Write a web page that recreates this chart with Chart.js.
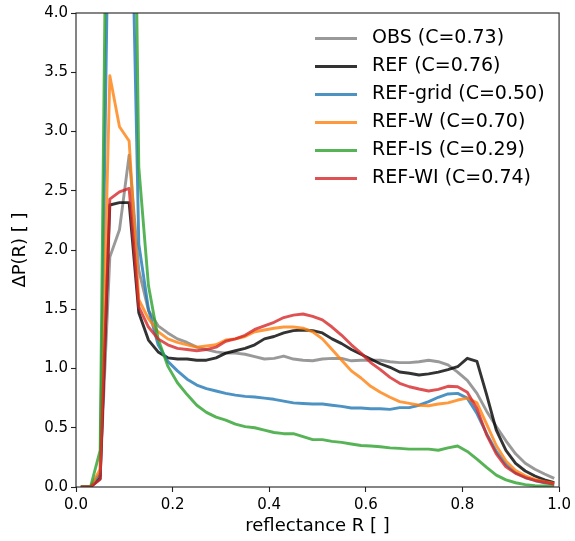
<!DOCTYPE html>
<html>
<head>
<meta charset="utf-8">
<script src="https://cdn.jsdelivr.net/npm/chart.js@4.4.1/dist/chart.umd.min.js"></script>
<style>
html,body{margin:0;padding:0;background:#fff;}
#wrap{position:relative;width:575px;height:541px;}
</style>
</head>
<body>
<div id="wrap"><canvas id="c"></canvas></div>
<script>
// reflectance bin centres
const reflectance = [0.01,0.03,0.05,0.07,0.09,0.11,0.13,0.15,0.17,0.19,
                     0.21,0.23,0.25,0.27,0.29,0.31,0.33,0.35,0.37,0.39,
                     0.41,0.43,0.45,0.47,0.49,0.51,0.53,0.55,0.57,0.59,
                     0.61,0.63,0.65,0.67,0.69,0.71,0.73,0.75,0.77,0.79,
                     0.81,0.83,0.85,0.87,0.89,0.91,0.93,0.95,0.97,0.99];

const obs = [0,0,0.10,1.94,2.17,2.80,1.83,1.49,1.36,1.30,
             1.25,1.22,1.18,1.16,1.14,1.13,1.13,1.12,1.10,1.08,
             1.085,1.105,1.08,1.07,1.065,1.08,1.085,1.085,1.065,1.07,
             1.07,1.07,1.057,1.05,1.05,1.057,1.07,1.057,1.03,0.97,
             0.90,0.79,0.64,0.51,0.39,0.28,0.20,0.15,0.11,0.073];

const ref = [0,0,0.07,2.38,2.40,2.40,1.47,1.24,1.14,1.09,
             1.08,1.08,1.07,1.07,1.09,1.13,1.15,1.17,1.20,1.25,
             1.27,1.30,1.32,1.325,1.32,1.30,1.25,1.21,1.16,1.12,
             1.08,1.04,1.01,0.97,0.96,0.945,0.955,0.97,0.99,1.015,
             1.086,1.06,0.78,0.48,0.31,0.20,0.135,0.093,0.06,0.036];

const refGrid = [0,0,0.12,5.7,6.0,6.0,2.05,1.50,1.20,1.06,
                 0.98,0.91,0.86,0.83,0.81,0.79,0.775,0.765,0.76,0.75,
                 0.74,0.725,0.71,0.705,0.70,0.70,0.69,0.68,0.667,0.667,
                 0.66,0.66,0.655,0.67,0.67,0.69,0.72,0.757,0.785,0.79,
                 0.75,0.62,0.45,0.30,0.19,0.12,0.08,0.055,0.035,0.025];

const refW = [0,0,0.15,3.47,3.04,2.92,1.58,1.42,1.31,1.25,
              1.22,1.20,1.18,1.19,1.20,1.24,1.25,1.27,1.31,1.325,
              1.34,1.35,1.35,1.34,1.31,1.25,1.16,1.07,0.98,0.92,
              0.85,0.80,0.757,0.72,0.706,0.69,0.686,0.70,0.71,0.734,
              0.75,0.71,0.53,0.35,0.22,0.14,0.095,0.065,0.045,0.03];

const refIS = [0,0,0.31,7.85,8.5,9.0,2.7,1.70,1.25,1.02,
               0.88,0.78,0.69,0.63,0.59,0.565,0.53,0.51,0.50,0.48,
               0.46,0.45,0.45,0.425,0.40,0.40,0.385,0.377,0.363,0.35,
               0.346,0.34,0.33,0.326,0.32,0.32,0.32,0.31,0.33,0.346,
               0.30,0.235,0.165,0.10,0.06,0.036,0.02,0.012,0.008,0.005];

const refWI = [0,0,0.065,2.43,2.49,2.52,1.52,1.35,1.25,1.20,
               1.17,1.16,1.15,1.16,1.18,1.23,1.25,1.28,1.33,1.36,
               1.39,1.43,1.45,1.46,1.44,1.41,1.35,1.28,1.20,1.13,
               1.05,0.99,0.925,0.875,0.846,0.827,0.81,0.824,0.85,0.846,
               0.80,0.66,0.44,0.28,0.17,0.115,0.08,0.055,0.04,0.025];

const seriesNames = ['OBS (C=0.73)','REF (C=0.76)','REF-grid (C=0.50)','REF-W (C=0.70)','REF-IS (C=0.29)','REF-WI (C=0.74)'];
const seriesValues = [obs, ref, refGrid, refW, refIS, refWI];
const xTickValues = [0.0,0.2,0.4,0.6,0.8,1.0];
const yTickValues = [0.0,0.5,1.0,1.5,2.0,2.5,3.0,3.5,4.0];
const xLabel = 'reflectance R [ ]';
const yLabel = 'ΔP(R) [ ]';

// styles
const lineColors = ['rgba(128,128,128,0.8)','rgba(0,0,0,0.8)','rgba(31,119,180,0.8)',
                    'rgba(255,127,14,0.8)','rgba(44,160,44,0.8)','rgba(214,39,40,0.8)'];
const FONT = 'DejaVu Sans';
Chart.defaults.font.family = FONT;

const framePlugin = {
  id: 'frame',
  afterDatasetsDraw(chart) {
    const {ctx, chartArea: a} = chart;
    ctx.save();
    ctx.strokeStyle = '#222';
    ctx.lineWidth = 1.1;
    ctx.strokeRect(a.left, a.top, a.right - a.left, a.bottom - a.top);
    ctx.restore();
  }
};

const legendPlugin = {
  id: 'mplLegend',
  afterDraw(chart) {
    const {ctx, chartArea: a} = chart;
    ctx.save();
    const x0 = a.left + 239, hl = 42, tx = a.left + 296, y0 = a.top + 25.5, dy = 28;
    chart.data.datasets.forEach((ds, i) => {
      const y = y0 + i * dy;
      ctx.strokeStyle = ds.borderColor;
      ctx.lineWidth = ds.borderWidth;
      ctx.lineCap = 'butt';
      ctx.beginPath(); ctx.moveTo(x0, y); ctx.lineTo(x0 + hl, y); ctx.stroke();
      ctx.fillStyle = '#000';
      ctx.font = '19px "' + FONT + '"';
      ctx.textBaseline = 'middle';
      ctx.textAlign = 'left';
      ctx.fillText(ds.label, tx, y);
    });
    ctx.restore();
  }
};

const datasets = seriesNames.map((name, i) => ({
  label: name,
  data: reflectance.map((x, j) => ({x: x, y: seriesValues[i][j]})),
  borderColor: lineColors[i],
  backgroundColor: lineColors[i],
  borderWidth: 2.9,
  pointRadius: 0,
  tension: 0,
  fill: false,
  clip: 0,
  borderJoinStyle: 'round',
  order: seriesNames.length - i
}));

const tickFont = {family: FONT, size: 15};
const titleFont = {family: FONT, size: 18};

new Chart(document.getElementById('c'), {
  type: 'line',
  data: {datasets},
  options: {
    responsive: true,
    maintainAspectRatio: false,
    animation: false,
    devicePixelRatio: 1,
    layout: {padding: {left: 0, right: 14, top: 13, bottom: 0}},
    plugins: {legend: {display: false}, tooltip: {enabled: false}},
    scales: {
      x: {
        type: 'linear', min: 0, max: 1,
        afterBuildTicks: s => { s.ticks = xTickValues.map(v => ({value: v})); },
        afterFit: s => { s.height = 54; },
        grid: {display: true, drawOnChartArea: false, drawTicks: true, tickLength: 5, tickWidth: 1.1, tickColor: '#222'},
        border: {display: false},
        ticks: {font: tickFont, color: '#000', padding: 4, maxRotation: 0, autoSkip: false,
                callback: v => Number(v).toFixed(1)},
        title: {display: true, text: xLabel, font: titleFont, color: '#000', padding: {top: 0, bottom: 4}}
      },
      y: {
        type: 'linear', min: 0, max: 4,
        afterBuildTicks: s => { s.ticks = yTickValues.map(v => ({value: v})); },
        afterFit: s => { s.width = 76; },
        grid: {display: true, drawOnChartArea: false, drawTicks: true, tickLength: 5, tickWidth: 1.1, tickColor: '#222'},
        border: {display: false},
        ticks: {font: tickFont, color: '#000', padding: 3, autoSkip: false,
                callback: v => Number(v).toFixed(1)},
        title: {display: true, text: yLabel, font: titleFont, color: '#000', padding: {top: 10, bottom: 0}}
      }
    }
  },
  plugins: [framePlugin, legendPlugin]
});
</script>
</body>
</html>
